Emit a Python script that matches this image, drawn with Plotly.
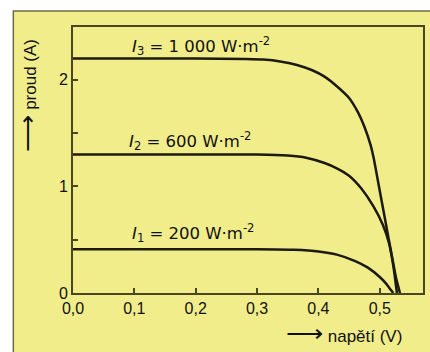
import plotly.graph_objects as go

# Data
v_i3 = [0.0, 0.1, 0.2, 0.28, 0.31, 0.34, 0.365, 0.39, 0.41, 0.43, 0.45, 0.465, 0.475, 0.485, 0.49, 0.50, 0.51, 0.52, 0.527, 0.533]
i_i3 = [2.2, 2.2, 2.2, 2.195, 2.19, 2.17, 2.14, 2.09, 2.03, 1.94, 1.83, 1.69, 1.56, 1.39, 1.27, 0.96, 0.65, 0.34, 0.13, 0.0]

v_i2 = [0.0, 0.1, 0.2, 0.3, 0.35, 0.38, 0.41, 0.43, 0.45, 0.47, 0.49, 0.505, 0.515, 0.522, 0.528]
i_i2 = [1.3, 1.3, 1.3, 1.3, 1.29, 1.27, 1.22, 1.17, 1.1, 0.98, 0.81, 0.64, 0.47, 0.26, 0.0]

v_i1 = [0.0, 0.1, 0.2, 0.3, 0.36, 0.4, 0.43, 0.46, 0.48, 0.5, 0.51, 0.518, 0.522]
i_i1 = [0.41, 0.41, 0.41, 0.41, 0.405, 0.39, 0.36, 0.3, 0.24, 0.15, 0.09, 0.03, 0.0]

x_tickvals = [0.0, 0.1, 0.2, 0.3, 0.4, 0.5]
x_ticktext = ["0,0", "0,1", "0,2", "0,3", "0,4", "0,5"]
y_tickvals = [0, 0.5, 1, 1.5, 2]
y_ticktext = ["0", "", "1", "", "2"]

labels = [
    ("<i>I</i><sub>3</sub> = 1 000 W·m<sup>-2</sup>", 0.0924, 2.32),
    ("<i>I</i><sub>2</sub> = 600 W·m<sup>-2</sup>", 0.0875, 1.43),
    ("<i>I</i><sub>1</sub> = 200 W·m<sup>-2</sup>", 0.0924, 0.56),
]

FONT = "Liberation Sans, Arial, sans-serif"
WIDE = "DejaVu Sans, Liberation Sans, sans-serif"
LINE = "#1c1a10"
FRAME = "#4a4622"
YELLOW = "#f1ed8b"

fig = go.Figure()
for xs, ys in [(v_i3, i_i3), (v_i2, i_i2), (v_i1, i_i1)]:
    fig.add_trace(go.Scatter(x=xs, y=ys, mode="lines", line=dict(color=LINE, width=2.5, shape="spline", smoothing=0.5),
                             showlegend=False, hoverinfo="skip"))

for txt, x, y in labels:
    fig.add_annotation(x=x, y=y, xref="x", yref="y", text=txt, showarrow=False,
                       xanchor="left", yanchor="middle", font=dict(family=WIDE, size=16.5, color="#111"))

ARROW = "<span style='font-size:26px'>⟶</span>"
fig.add_annotation(x=0.775, y=-0.15, xref="paper", yref="paper", text=ARROW + " napětí (V)", showarrow=False,
                   xanchor="center", yanchor="middle", font=dict(family=FONT, size=17, color="#111"))
fig.add_annotation(x=-0.13, y=0.744, xref="paper", yref="paper", text=ARROW + " proud (A)", showarrow=False,
                   textangle=-90, xanchor="center", yanchor="middle", font=dict(family=FONT, size=17, color="#111"))

fig.add_shape(type="rect", xref="paper", yref="paper", x0=-0.1705, x1=1.05, y0=-0.3, y1=1.060,
              fillcolor=YELLOW, line=dict(color="#6e6c4a", width=1.5), layer="below")

fig.update_xaxes(range=[0, 0.5705], tickvals=x_tickvals, ticktext=x_ticktext, ticks="inside", ticklen=5,
                 tickwidth=1.5, tickcolor=FRAME, showline=True, linecolor=FRAME, linewidth=2, mirror=True,
                 showgrid=False, zeroline=False, tickfont=dict(family=FONT, size=16, color="#111"))
fig.update_yaxes(range=[0, 2.496], tickvals=y_tickvals, ticktext=y_ticktext, ticks="inside", ticklen=5,
                 tickwidth=1.5, tickcolor=FRAME, showline=True, linecolor=FRAME, linewidth=2, mirror=True,
                 showgrid=False, zeroline=False, tickfont=dict(family=FONT, size=16, color="#111"))

fig.update_layout(width=430, height=352, margin=dict(l=73, r=5, t=27, b=59),
                  paper_bgcolor="white", plot_bgcolor="rgba(0,0,0,0)")

fig.write_html("out.html", config={"displayModeBar": False},
               post_script="document.body.style.margin='0';document.body.style.overflow='hidden';")
